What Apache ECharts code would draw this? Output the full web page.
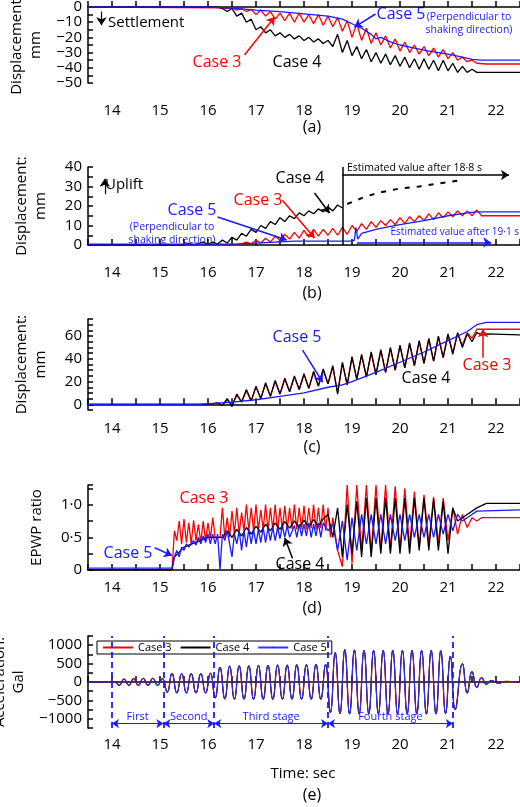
<!DOCTYPE html>
<html><head><meta charset="utf-8">
<script src="https://cdn.jsdelivr.net/npm/echarts@6/dist/echarts.min.js"></script>
<style>html,body{margin:0;padding:0;background:#fff}#c{width:520px;height:807px}</style>
</head><body><div id="c"></div>
<script>
// ---------- DATA ----------
const xTicks = [14,15,16,17,18,19,20,21,22];
// (a) settlement (mm)
const settle3 = [[13.5,0],[16.3,-0.5],[16.4,-1],[16.5,-0.5],[16.6,-2],[16.7,-1],[16.8,-3],[16.9,-1.5],[17.0,-5],[17.1,-2],[17.2,-6],[17.3,-3],[17.4,-8],[17.5,-4],[17.6,-9],[17.7,-4],[17.8,-10],[17.9,-4],[18.0,-10],[18.1,-5],[18.2,-11],[18.3,-5],[18.4,-12],[18.5,-6],[18.6,-13],[18.7,-7],[18.8,-16],[18.9,-9],[19.0,-20],[19.1,-11],[19.2,-22],[19.3,-14],[19.4,-24],[19.5,-17],[19.6,-25],[19.7,-19],[19.8,-27],[19.9,-21],[20.0,-29],[20.1,-23],[20.2,-30],[20.3,-25],[20.4,-31],[20.5,-26],[20.6,-32],[20.7,-27],[20.8,-33],[20.9,-28],[21.0,-34],[21.1,-30],[21.2,-35],[21.3,-33],[21.4,-36],[21.5,-35],[21.6,-37],[21.8,-37.5],[22.5,-37.5]];
const settle4 = [[13.5,0],[16.2,0],[16.3,-1],[16.4,-3],[16.5,-1],[16.6,-6],[16.7,-4],[16.8,-10],[16.9,-8],[17.0,-15],[17.1,-13],[17.2,-17],[17.3,-15],[17.4,-19],[17.5,-17],[17.6,-20],[17.7,-18],[17.8,-21],[17.9,-19],[18.0,-22],[18.1,-20],[18.2,-23],[18.3,-21],[18.4,-24],[18.5,-22],[18.6,-26],[18.7,-18],[18.8,-30],[18.9,-22],[19.0,-32],[19.1,-26],[19.2,-34],[19.3,-28],[19.4,-36],[19.5,-30],[19.6,-37],[19.7,-31],[19.8,-38],[19.9,-32],[20.0,-39],[20.1,-33],[20.2,-40],[20.3,-34],[20.4,-41],[20.5,-34],[20.6,-41],[20.7,-35],[20.8,-42],[20.9,-35],[21.0,-42],[21.1,-37],[21.2,-43],[21.3,-39],[21.4,-43],[21.5,-41],[21.6,-43],[21.8,-43],[22.5,-43]];
const settle5 = [[13.5,0],[16.0,0],[16.5,-0.8],[17.0,-2],[17.5,-3],[18.0,-4.5],[18.5,-6],[18.8,-8],[19.0,-11],[19.2,-14],[19.4,-18],[19.5,-21],[19.6,-20],[19.8,-23],[20.0,-25],[20.3,-27],[20.6,-29],[21.0,-31],[21.3,-33],[21.5,-34.5],[21.7,-35],[22.5,-35]];
// (b) uplift (mm)
const uplift3 = [[13.5,0],[16.4,0],[16.5,0.5],[16.6,-0.3],[16.8,1.5],[16.9,0.5],[17.0,2.5],[17.1,1],[17.2,3.5],[17.3,1.5],[17.4,4.5],[17.5,2.5],[17.6,5.5],[17.7,3],[17.8,6.5],[17.9,3.5],[18.0,7.5],[18.1,4],[18.2,8],[18.3,4.5],[18.4,8],[18.5,5],[18.6,8.5],[18.7,5],[18.8,9],[18.9,5.5],[19.0,10],[19.1,7],[19.2,11],[19.3,8],[19.4,12],[19.5,9],[19.6,12.5],[19.7,10],[19.8,13],[19.9,10.5],[20.0,14],[20.1,11],[20.2,14.5],[20.3,12],[20.4,15],[20.5,12.5],[20.6,16],[20.7,13],[20.8,16.5],[20.9,14],[21.0,17],[21.1,14.5],[21.2,17.5],[21.3,15],[21.4,17.5],[21.5,15],[21.6,18],[21.7,15],[21.8,15],[22.5,15]];
const uplift4 = [[13.5,0],[15.5,0],[15.6,0.8],[15.7,0],[15.9,1.5],[16.0,0.3],[16.1,1.5],[16.2,0.5],[16.3,2.5],[16.4,1],[16.5,4],[16.6,2.5],[16.7,6],[16.8,4.5],[16.9,8],[17.0,6.5],[17.1,10],[17.2,8.5],[17.3,12],[17.4,10.5],[17.5,14],[17.6,12],[17.7,15],[17.8,13.5],[17.9,16.5],[18.0,15],[18.1,17.5],[18.2,16],[18.3,18.5],[18.4,17],[18.5,19.5],[18.6,17.5],[18.7,20.5],[18.8,19]];
const uplift4Est = [[18.9,21],[19.3,25],[19.6,27],[20.0,29],[20.4,30],[20.8,31.5],[21.2,33]];
const uplift5 = [[13.5,0.5],[16.5,0.5],[17.0,1],[17.8,2],[19.0,2],[19.05,2.5],[19.08,9],[19.12,3],[19.2,6],[19.5,8],[19.8,9.5],[20.0,10.5],[20.5,12.5],[21.0,15],[21.4,16.5],[21.6,17],[22.5,17]];
// (c) horizontal displacement (mm)
const disp3 = [[13.5,0],[16.0,0],[16.2,1],[16.3,-1],[16.4,4],[16.5,-1],[16.6,8],[16.7,2],[16.8,12],[16.9,3],[17.0,15],[17.1,5],[17.2,18],[17.3,7],[17.4,20],[17.5,9],[17.6,22],[17.7,11],[17.8,24],[17.9,13],[18.0,26],[18.1,14],[18.2,28],[18.3,16],[18.4,30],[18.5,18],[18.6,33],[18.7,10],[18.8,36],[18.9,17],[19.0,41],[19.1,22],[19.2,43],[19.3,24],[19.4,45],[19.5,26],[19.6,47],[19.7,28],[19.8,49],[19.9,30],[20.0,51],[20.1,32],[20.2,53],[20.3,34],[20.4,55],[20.5,36],[20.6,57],[20.7,38],[20.8,59],[20.9,41],[21.0,61],[21.1,45],[21.2,62],[21.3,52],[21.4,63],[21.5,58],[21.6,66],[22.5,66]];
const disp4 = [[13.5,0],[16.0,0],[16.2,1],[16.3,-1],[16.4,5],[16.5,-2],[16.6,9],[16.7,2],[16.8,13],[16.9,3],[17.0,16],[17.1,5],[17.2,19],[17.3,7],[17.4,21],[17.5,9],[17.6,23],[17.7,11],[17.8,25],[17.9,13],[18.0,27],[18.1,14],[18.2,29],[18.3,16],[18.4,31],[18.5,18],[18.6,34],[18.7,9],[18.8,37],[18.9,17],[19.0,42],[19.1,22],[19.2,44],[19.3,24],[19.4,46],[19.5,26],[19.6,48],[19.7,28],[19.8,50],[19.9,30],[20.0,52],[20.1,32],[20.2,54],[20.3,34],[20.4,56],[20.5,36],[20.6,58],[20.7,38],[20.8,60],[20.9,41],[21.0,62],[21.1,44],[21.2,63],[21.3,50],[21.4,62],[21.5,55],[21.6,63],[21.7,61],[21.8,62],[22.5,61]];
const disp5 = [[13.5,0],[15.8,0],[16.0,0.5],[16.5,2],[17.0,4],[17.5,7],[18.0,10],[18.5,15],[18.8,17],[19.0,20],[19.5,28],[20.0,37],[20.5,46],[21.0,56],[21.4,64],[21.6,70],[21.8,72],[22.5,72]];
// (d) EPWP ratio
const epwp3 = [[13.5,-0.02],[15.25,-0.02],[15.3,0.6],[15.35,0.45],[15.4,0.75],[15.45,0.4],[15.5,0.78],[15.55,0.42],[15.6,0.72],[15.65,0.4],[15.7,0.76],[15.75,0.45],[15.8,0.7],[15.85,0.42],[15.9,0.75],[15.95,0.45],[16.0,0.72],[16.05,0.48],[16.1,0.8],[16.15,0.5],[16.25,0.5],[16.3,0.95],[16.35,0.5],[16.4,0.8],[16.45,0.5],[16.5,0.9],[16.55,0.55],[16.6,0.95],[16.65,0.55],[16.7,0.88],[16.75,0.6],[16.8,1.0],[16.85,0.6],[16.9,0.95],[16.95,0.6],[17.0,1.0],[17.05,0.6],[17.1,0.92],[17.15,0.62],[17.2,1.0],[17.25,0.6],[17.3,0.95],[17.35,0.62],[17.4,1.0],[17.45,0.6],[17.5,0.95],[17.55,0.62],[17.6,0.98],[17.65,0.62],[17.7,0.95],[17.75,0.63],[17.8,1.0],[17.85,0.62],[17.9,0.95],[17.95,0.63],[18.0,0.98],[18.05,0.62],[18.1,0.95],[18.15,0.64],[18.2,1.0],[18.25,0.62],[18.3,0.95],[18.35,0.64],[18.4,1.0],[18.45,0.6],[18.5,0.95],[18.55,0.5],[18.6,0.8],[18.7,0.3],[18.8,0.05],[18.9,1.3],[19.0,0.1],[19.1,1.3],[19.2,0.3],[19.3,1.3],[19.4,0.25],[19.5,1.3],[19.6,0.3],[19.7,1.3],[19.8,0.3],[19.9,1.28],[20.0,0.3],[20.1,1.25],[20.2,0.35],[20.3,1.2],[20.4,0.35],[20.5,1.15],[20.6,0.4],[20.7,1.12],[20.8,0.4],[20.9,1.1],[21.0,0.45],[21.1,0.95],[21.2,0.55],[21.3,0.85],[21.4,0.65],[21.5,0.8],[21.6,0.75],[21.7,0.8],[22.5,0.8]];
const epwp4 = [[13.5,0.0],[15.25,0.0],[15.3,0.2],[15.5,0.35],[16.0,0.5],[16.3,0.5],[16.4,0.6],[16.5,0.5],[16.6,0.62],[16.7,0.52],[16.8,0.65],[16.9,0.55],[17.0,0.67],[17.1,0.58],[17.2,0.7],[17.3,0.6],[17.4,0.72],[17.5,0.62],[17.6,0.74],[17.7,0.64],[17.8,0.75],[17.9,0.65],[18.0,0.76],[18.1,0.66],[18.2,0.77],[18.3,0.67],[18.4,0.78],[18.5,0.85],[18.6,0.5],[18.7,0.95],[18.8,0.2],[18.9,1.0],[19.0,0.25],[19.1,1.05],[19.2,0.2],[19.3,1.1],[19.4,0.2],[19.5,1.1],[19.6,0.25],[19.7,1.1],[19.8,0.25],[19.9,1.1],[20.0,0.25],[20.1,1.1],[20.2,0.25],[20.3,1.1],[20.4,0.3],[20.5,1.1],[20.6,0.3],[20.7,1.08],[20.8,0.3],[20.9,1.05],[21.0,0.25],[21.1,0.95],[21.2,0.75],[21.4,0.85],[21.6,0.95],[21.8,1.02],[22.5,1.02]];
const epwp5 = [[13.5,0.03],[15.25,0.03],[15.3,0.2],[15.35,0.3],[15.4,0.2],[15.45,0.35],[15.5,0.3],[15.55,0.4],[15.6,0.35],[15.7,0.45],[15.75,0.38],[15.8,0.5],[15.85,0.4],[15.9,0.52],[15.95,0.42],[16.0,0.55],[16.05,0.4],[16.1,0.55],[16.15,0.4],[16.2,0.55],[16.25,0.0],[16.3,0.55],[16.35,0.45],[16.4,0.6],[16.5,0.2],[16.55,0.55],[16.6,0.4],[16.65,0.6],[16.7,0.3],[16.75,0.6],[16.8,0.35],[16.85,0.62],[16.9,0.4],[16.95,0.62],[17.0,0.4],[17.05,0.62],[17.1,0.42],[17.15,0.65],[17.2,0.42],[17.25,0.65],[17.3,0.45],[17.35,0.65],[17.4,0.45],[17.45,0.65],[17.5,0.48],[17.55,0.68],[17.6,0.5],[17.65,0.68],[17.7,0.5],[17.8,0.68],[17.85,0.5],[17.9,0.7],[17.95,0.52],[18.0,0.7],[18.05,0.52],[18.1,0.72],[18.15,0.5],[18.2,0.7],[18.25,0.52],[18.3,0.72],[18.35,0.5],[18.4,0.72],[18.5,0.6],[18.6,0.7],[18.7,0.3],[18.8,0.75],[18.9,0.15],[19.0,0.8],[19.1,0.3],[19.2,0.85],[19.3,0.4],[19.4,0.85],[19.5,0.4],[19.6,0.85],[19.7,0.4],[19.8,0.85],[19.9,0.45],[20.0,0.85],[20.1,0.45],[20.2,0.85],[20.3,0.5],[20.4,0.85],[20.5,0.5],[20.6,0.85],[20.7,0.5],[20.8,0.85],[20.9,0.55],[21.0,0.85],[21.1,0.6],[21.2,0.85],[21.3,0.75],[21.5,0.85],[21.6,0.9],[22.5,0.92]];
// (e) input acceleration (Gal) – identical for the three cases
const accel = [[13.5,0],[14.0,0],[14.05,10],[14.15,-90],[14.25,80],[14.35,-90],[14.45,90],[14.55,-90],[14.65,100],[14.75,-90],[14.85,100],[14.95,-90],[15.05,90],[15.15,-280],[15.25,230],[15.35,-300],[15.45,230],[15.55,-300],[15.65,230],[15.75,-300],[15.85,230],[15.95,-300],[16.05,240],[16.15,-430],[16.25,400],[16.35,-460],[16.45,430],[16.55,-470],[16.65,440],[16.75,-470],[16.85,440],[16.95,-470],[17.05,450],[17.15,-470],[17.25,450],[17.35,-470],[17.45,460],[17.55,-470],[17.65,460],[17.75,-470],[17.85,470],[17.95,-470],[18.05,470],[18.15,-470],[18.25,480],[18.35,-470],[18.45,480],[18.55,-830],[18.65,800],[18.75,-860],[18.85,880],[18.95,-870],[19.05,870],[19.15,-870],[19.25,860],[19.35,-870],[19.45,860],[19.55,-870],[19.65,860],[19.75,-870],[19.85,860],[19.95,-870],[20.05,860],[20.15,-870],[20.25,860],[20.35,-870],[20.45,860],[20.55,-870],[20.65,860],[20.75,-870],[20.85,850],[20.95,-860],[21.05,700],[21.15,-750],[21.3,500],[21.4,-300],[21.5,280],[21.6,-150],[21.7,120],[21.8,-60],[21.9,40],[22.05,-30],[22.2,15],[22.5,0]];
const stageBounds = [14.0, 15.07, 16.13, 18.5, 21.1];
const stageNames = ['First','Second','Third stage','Fourth stage'];

// ---------- LAYOUT ----------
const FF = '"Open Sans", "DejaVu Sans", sans-serif';
const RED='#ff0000', BLK='#000000', BLU='#1a1aff';
const grids = [
  {left:88,width:432,top:7,height:76},
  {left:88,width:432,top:167,height:78},
  {left:88,width:432,top:319,height:91},
  {left:88,width:432,top:485,height:85},
  {left:88,width:432,top:636,height:92}
].map(g=>Object.assign(g,{containLabel:false,outerBoundsMode:'none'}));
const xMargins=[20,20,11,10,9];
const isInt=v=>Math.abs(v-Math.round(v))<1e-6;
const xAxes = grids.map((g,i)=>({gridIndex:i,type:'value',min:13.5,max:22.5,interval:0.5,
  axisLine:{lineStyle:{color:'#000',width:1.5}},axisTick:{inside:true,length:6,lineStyle:{color:'#000',width:1.5}},
  splitLine:{show:false},
  axisLabel:{margin:xMargins[i],color:'#000',fontSize:15,fontFamily:FF,formatter:v=>isInt(v)&&xTicks.includes(Math.round(v))?String(Math.round(v)):''}}));
const minus=v=>v<0?'\u2212'+Math.abs(v):String(v);
function yAx(i,min,max,interval,fmt,name,gap){
  return {gridIndex:i,type:'value',min,max,interval,name,nameLocation:'middle',nameGap:gap,
    nameTextStyle:{color:'#000',fontSize:15,fontFamily:FF,lineHeight:19},
    axisLine:{show:true,lineStyle:{color:'#000',width:1.5}},axisTick:{inside:true,length:5,lineStyle:{color:'#000',width:1.5}},
    splitLine:{show:false},axisLabel:{color:'#000',fontSize:15,fontFamily:FF,margin:6,formatter:fmt}};
}
const yAxes=[
  yAx(0,-50,0,5,v=>Math.round(v)%10===0?minus(Math.round(v)):'','Displacement:\nmm',38),
  yAx(1,0,40,5,v=>Math.round(v)%10===0?String(Math.round(v)):'','Displacement:\nmm',38),
  yAx(2,-5,75,5,v=>Math.round(v)%20===0?String(Math.round(v)):'','Displacement:\nmm',38),
  yAx(3,0,1.3,0.25,v=>v===0?'0':(Math.abs(v-0.5)<1e-6?'0\u00b75':(Math.abs(v-1)<1e-6?'1\u00b70':'')),'EPWP ratio',42),
  yAx(4,-1250,1250,250,v=>Math.round(v)%500===0?minus(Math.round(v)):'','Acceleration:\nGal',55)
];

function ln(name,data,color,gi,extra){
  return Object.assign({name,type:'line',data,xAxisIndex:gi,yAxisIndex:gi,symbol:'none',showSymbol:false,
    lineStyle:{color,width:1.3},itemStyle:{color},animation:false,silent:true},extra||{});
}
function arrow(p1,p2,color,w){ return [{coord:p1,lineStyle:{color,width:w||1.5,type:'solid'}},{coord:p2}]; }
function ml(data,extra){ return Object.assign({silent:true,animation:false,symbol:['none','arrow'],symbolSize:8,label:{show:false},data},extra||{}); }

const series=[
  ln('a3',settle3,RED,0),
  ln('a4',settle4,BLK,0),
  ln('a5',settle5,BLU,0,{markLine:ml([
    arrow([13.78,-3],[13.78,-12],BLK,1.2),
    arrow([16.76,-31.6],[17.39,-6.6],RED),
    arrow([19.49,-4.6],[19.05,-13.2],BLU)])}),
  ln('b3',uplift3,RED,1),
  ln('b4',uplift4,BLK,1),
  ln('b4e',uplift4Est,BLK,1,{lineStyle:{color:BLK,width:2,type:[5,7]},markLine:ml([
    [{coord:[18.8,0],lineStyle:{color:BLK,width:1.5,type:'solid'}},{coord:[18.8,40]}]],{symbol:['none','none']})}),
  ln('b5',uplift5,BLU,1,{markLine:ml([
    arrow([13.85,26],[13.85,34],BLK,1.2),
    arrow([18.22,26.7],[18.53,16.4],BLK),
    arrow([17.55,23],[18.22,3.6],RED),
    arrow([16.2,14.4],[17.64,2.6],BLU),
    arrow([18.8,35.9],[22.27,35.9],BLK),
    arrow([19.1,1.3],[21.9,1.3],BLU)])}),
  ln('c3',disp3,RED,2),
  ln('c4',disp4,BLK,2),
  ln('c5',disp5,BLU,2,{markLine:ml([
    arrow([17.97,47.6],[18.39,19.4],BLU),
    arrow([21.73,41],[21.73,66],RED)])}),
  ln('d3',epwp3,RED,3),
  ln('d4',epwp4,BLK,3),
  ln('d5',epwp5,BLU,3,{markLine:ml([
    arrow([14.89,0.34],[15.25,0.22],BLU),
    arrow([17.76,0.18],[17.6,0.49],BLK)])}),
  ln('Case 3',accel,RED,4,{smooth:0.5}),
  ln('Case 4',accel,BLK,4,{smooth:0.5,lineStyle:{color:BLK,width:1},markLine:ml(
    stageBounds.map(x=>({xAxis:x,lineStyle:{color:BLU,width:1.8,type:[6,4]}})),{symbol:['none','none']})}),
  ln('Case 5',accel,BLU,4,{smooth:0.5,lineStyle:{color:'#3333ff',width:1},markLine:ml(
    stageNames.map((n,k)=>[{coord:[stageBounds[k],-1130],lineStyle:{color:BLU,width:1.2,type:'solid'},
      label:{show:true,formatter:n,position:'middle',color:BLU,fontSize:11,fontFamily:FF,distance:1}},
      {coord:[stageBounds[k+1],-1130]}]),{symbol:['arrow','arrow'],symbolSize:7})})
];

function T(text,x,y,color,size,align){
  return {type:'text',x,y,style:{text,fill:color,font:(size||15)+'px '+FF,textAlign:align||'center',textVerticalAlign:'middle'},silent:true};
}
const graphic=[
  T('Settlement',108,23,BLK,15,'left'),
  T('Case 3',217,62,RED,16),
  T('Case 4',297,62,BLK,16),
  T('Case 5',401,14,BLU,16),
  T('(Perpendicular to',469,17,BLU,10.5),
  T('shaking direction)',469,30,BLU,10.5),
  T('(a)',312,127,BLK,16),
  T('Uplift',105,185,BLK,15,'left'),
  T('Estimated value after 18\u00b78 s',347,168,BLK,10.5,'left'),
  T('Case 4',300,178,BLK,16),
  T('Case 3',258,200,RED,16),
  T('Case 5',192,210,BLU,16),
  T('(Perpendicular to',172,227,BLU,10.5),
  T('shaking direction)',172,240,BLU,10.5),
  T('Estimated value after 19\u00b71 s',519,232,BLU,10,'right'),
  T('(b)',312,293,BLK,16),
  T('Case 5',297,337,BLU,16),
  T('Case 4',426,378,BLK,16),
  T('Case 3',487,365,RED,16),
  T('(c)',312,447,BLK,16),
  T('Case 3',204,498,RED,16),
  T('Case 5',128,553,BLU,16),
  T('Case 4',300,564,BLK,16),
  T('(d)',312,608,BLK,16),
  T('Time: sec',303,774,BLK,15),
  T('(e)',312,795,BLK,16)
];

const chart=echarts.init(document.getElementById('c'),null,{renderer:'canvas'});
chart.setOption({
  animation:false,backgroundColor:'#fff',
  grid:grids,xAxis:xAxes,yAxis:yAxes,series,graphic,
  legend:{data:['Case 3','Case 4','Case 5'],left:97,top:641,padding:[1,5],itemGap:8,itemWidth:30,itemHeight:2,
    borderColor:'#000',borderWidth:1,backgroundColor:'#fff',textStyle:{color:'#000',fontSize:11,fontFamily:FF},selectedMode:false}
});
</script></body></html>
